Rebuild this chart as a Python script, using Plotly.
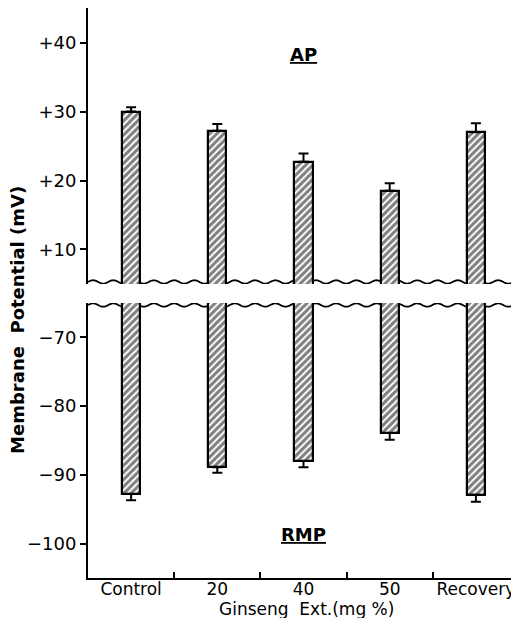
import numpy as np
import plotly.graph_objects as go

categories = ["Control", "20", "40", "50", "Recovery"]
ap_values = [30.0, 27.2, 22.7, 18.5, 27.0]
ap_err = [0.6, 1.0, 1.2, 1.1, 1.3]
rmp_values = [-92.8, -88.9, -88.0, -83.9, -92.9]
rmp_err = [0.9, 0.8, 0.9, 1.0, 1.0]
ap_ticks = [10, 20, 30, 40]
ap_ticktext = ["+10", "+20", "+30", "+40"]
rmp_ticks = [-70, -80, -90, -100]
rmp_ticktext = ["\u221270", "\u221280", "\u221290", "\u2212100"]

xpos = list(range(len(categories)))
FONT = "DejaVu Sans"

pattern = dict(shape="/", size=5, solidity=0.6, fgcolor="black", bgcolor="white")

fig = go.Figure()
fig.add_trace(go.Bar(
    x=xpos, y=ap_values, xaxis="x2", yaxis="y", width=0.21,
    marker=dict(color="white", pattern=pattern, line=dict(color="black", width=2.2)),
    error_y=dict(type="data", symmetric=False, array=ap_err, arrayminus=[0] * 5,
                 color="black", thickness=2, width=5),
    showlegend=False,
))
fig.add_trace(go.Bar(
    x=xpos, y=rmp_values, xaxis="x", yaxis="y2", width=0.21,
    marker=dict(color="white", pattern=pattern, line=dict(color="black", width=2.2)),
    error_y=dict(type="data", symmetric=False, array=[0] * 5, arrayminus=rmp_err,
                 color="black", thickness=2, width=5),
    showlegend=False,
))

# axis-break wavy lines (decoration)
wx = np.linspace(-0.5, 4.5, 600)
period = 0.235
amp = 0.24
def wave_path(center):
    wy = center + amp * np.sin(2 * np.pi * (wx + 0.5) / period)
    return "M " + " L ".join(f"{a:.4f},{b:.4f}" for a, b in zip(wx, wy))

fig.add_shape(type="path", path=wave_path(5.3), xref="x2", yref="y",
              line=dict(color="black", width=1.8), layer="below")
fig.add_shape(type="path", path=wave_path(-65.3), xref="x", yref="y2",
              line=dict(color="black", width=1.8), layer="below")

tickfont = dict(family=FONT, size=18, color="black")
xtickfont = dict(family=FONT, size=17, color="black")

# page body has an 8px margin; size the figure so the plot lands where the reference has it
fig.update_layout(
    width=511, height=610,
    margin=dict(l=80, r=0, t=0, b=40, autoexpand=False),
    paper_bgcolor="white", plot_bgcolor="white",
    bargap=0,
    xaxis=dict(domain=[0, 1], anchor="y2", range=[-0.5, 4.5], automargin=False,
               tickmode="array", tickvals=xpos, ticktext=categories,
               ticks="", showline=True, linecolor="black", linewidth=2,
               showgrid=False, zeroline=False, tickfont=xtickfont,
               ticklabelstandoff=-5,
               minor=dict(tickmode="array", tickvals=[0.5, 1.5, 2.5, 3.5],
                          ticks="inside", ticklen=6, tickwidth=1.5, tickcolor="black",
                          showgrid=False)),
    xaxis2=dict(domain=[0, 1], anchor="y", matches="x", visible=False, range=[-0.5, 4.5]),
    yaxis=dict(domain=[0.5158, 1], range=[5, 45], anchor="x2", automargin=False,
               tickmode="array", tickvals=ap_ticks, ticktext=ap_ticktext,
               ticks="outside", ticklen=6, tickwidth=1.5, tickcolor="black",
               showline=True, linecolor="black", linewidth=2,
               showgrid=False, zeroline=False, tickfont=tickfont),
    yaxis2=dict(domain=[0, 0.4825], range=[-105, -65], anchor="x", automargin=False,
                tickmode="array", tickvals=rmp_ticks, ticktext=rmp_ticktext,
                ticks="outside", ticklen=6, tickwidth=1.5, tickcolor="black",
                showline=True, linecolor="black", linewidth=2,
                showgrid=False, zeroline=False, tickfont=tickfont),
    annotations=[
        dict(text="<b>Membrane  Potential (mV)</b>", xref="paper", yref="paper",
             x=-0.165, y=0.4526, textangle=-90, showarrow=False,
             xanchor="center", yanchor="middle",
             font=dict(family=FONT, size=18, color="black")),
        dict(text="Ginseng  Ext.(mg %)", xref="paper", yref="paper",
             x=0.507, y=-0.055, showarrow=False, xanchor="center", yanchor="middle",
             font=dict(family=FONT, size=17, color="black")),
        dict(text="<b><u>AP</u></b>", xref="x2", yref="paper", x=2.0, y=0.919,
             showarrow=False, yanchor="middle",
             font=dict(family=FONT, size=18, color="black")),
        dict(text="<b><u>RMP</u></b>", xref="x", yref="paper", x=2.0, y=0.077,
             showarrow=False, yanchor="middle",
             font=dict(family=FONT, size=18, color="black")),
    ],
)

fig.write_html("out.html")
